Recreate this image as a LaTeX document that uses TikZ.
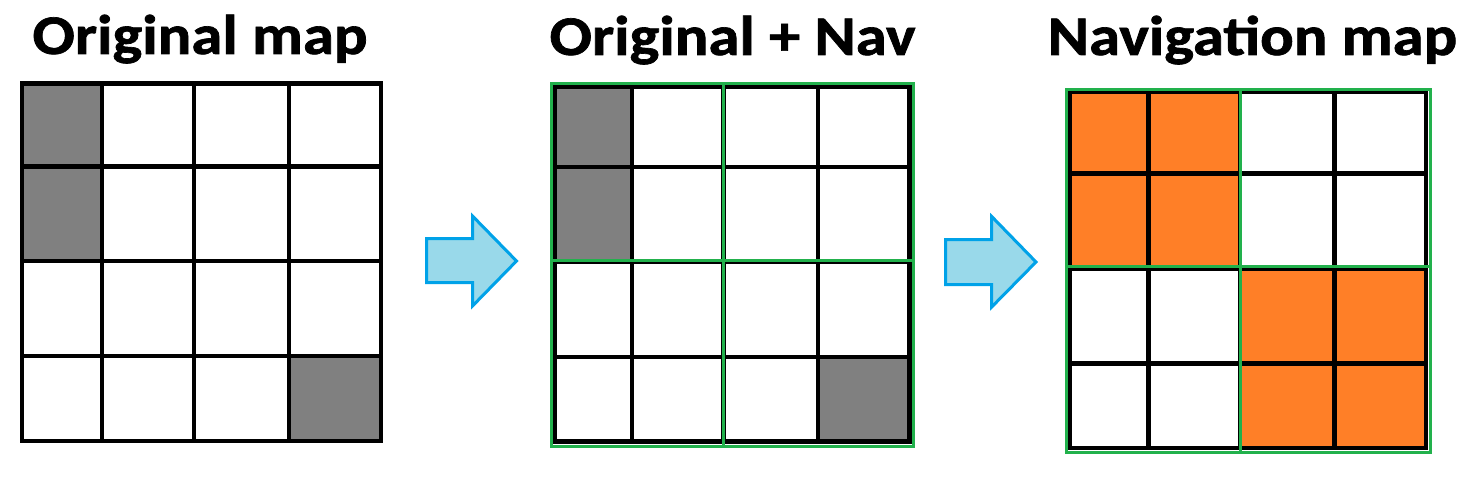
\documentclass[tikz,border=0pt]{standalone}
\usepackage{fontspec}
\setmainfont{Carlito}[BoldFeatures={FakeBold=1.2}]
\definecolor{cellgray}{HTML}{808080}
\definecolor{navorange}{HTML}{FF7F27}
\definecolor{navgreen}{HTML}{22B14C}
\definecolor{arrowfill}{HTML}{99D9EA}
\definecolor{arrowline}{HTML}{00A2E8}
\begin{document}
\begin{tikzpicture}[x=1pt,y=-1pt,
  gridline/.style={line width=4.6pt, draw=black},
  navline/.style={line width=3pt, draw=navgreen},
  blockarrow/.style={fill=arrowfill, draw=arrowline, line width=3pt, line join=miter},
  title/.style={font=\fontsize{56}{60}\selectfont\bfseries, anchor=base, inner sep=0pt, xscale=1.12}]
\useasboundingbox (0,0) rectangle (1473,481);
\fill[white] (0,0) rectangle (1473,481);
% titles
\node[title] (t1) at (200,54) {Original map};
\node[title] (t2) at (732.5,55) {Original + Nav};
\node[title] (t3) at (1252.5,55) {Navigation map};
% grid 1
\fill[cellgray] (22,84) rectangle (102,261);
\fill[cellgray] (289,356) rectangle (381,441);
\draw[gridline] (22,83.7) rectangle (381,441);
\foreach \x in {102,194,289} \draw[gridline] (\x,83.7) -- (\x,441);
\foreach \y in {166.5,261,356} \draw[gridline] (22,\y) -- (381,\y);
% grid 2
\fill[cellgray] (555,86.5) rectangle (632,262);
\fill[cellgray] (818,357) rectangle (909.5,441.3);
\draw[gridline] (555,86.5) rectangle (909.5,441.3);
\foreach \x in {632,723.5,818} \draw[gridline] (\x,86.5) -- (\x,441.3);
\foreach \y in {167,262,357} \draw[gridline] (555,\y) -- (909.5,\y);
\draw[navline] (551,84) rectangle (913.7,446.7);
\draw[navline] (723.7,84) -- (723.7,446.7);
\draw[navline] (551,260.7) -- (913.7,260.7);
% grid 3
\fill[navorange] (1070,92) rectangle (1240,266.3);
\fill[navorange] (1240,266.3) rectangle (1426,448);
\draw[gridline] (1070,92) rectangle (1426,448);
\foreach \x in {1148.3,1240,1334.3} \draw[gridline] (\x,92) -- (\x,448);
\foreach \y in {173.3,269,363.3} \draw[gridline] (1070,\y) -- (1426,\y);
\draw[navline] (1066.7,89.5) rectangle (1430.3,452.7);
\draw[navline] (1240,89.5) -- (1240,452.7);
\draw[navline] (1066.7,266.3) -- (1430.3,266.3);
% arrows
\draw[blockarrow] (426.7,238.7) -- (472.5,238.7) -- (472.5,216) -- (516.5,261) -- (472.5,306) -- (472.5,282.5) -- (426.7,282.5) -- cycle;
\draw[blockarrow] (945.7,239.7) -- (991.7,239.7) -- (991.7,216.5) -- (1036,262) -- (991.7,307) -- (991.7,284.7) -- (945.7,284.7) -- cycle;
\end{tikzpicture}
\end{document}
